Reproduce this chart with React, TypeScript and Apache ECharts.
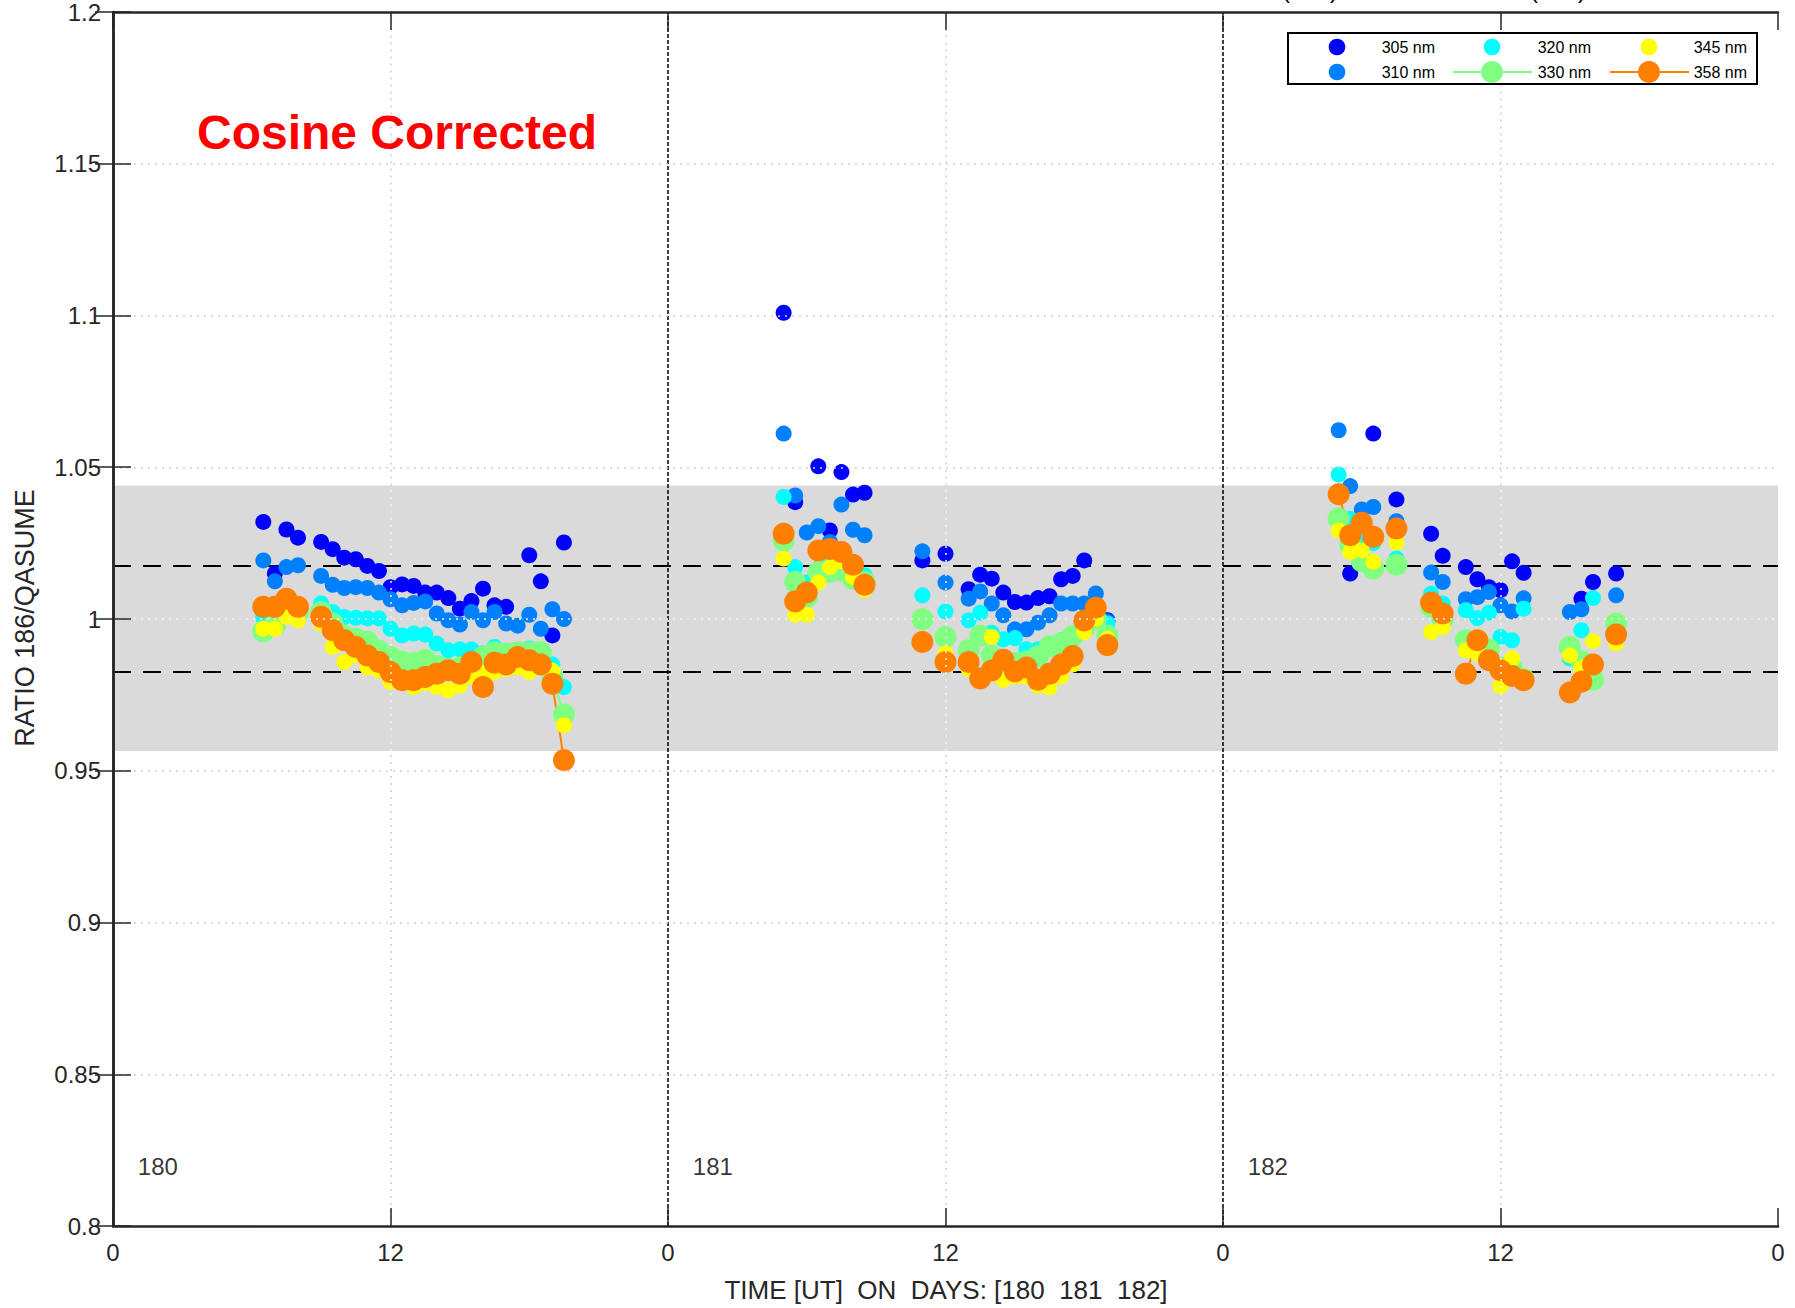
import React, { useEffect, useRef } from "react";
import * as echarts from "echarts";

// ---------- data (hours since day 180, 00 UT) ----------
const SERIES_NAMES = ["305 nm", "310 nm", "320 nm", "330 nm", "345 nm", "358 nm"];
const SERIES_COLORS = ["#0000ff", "#0080ff", "#00ffff", "#80ff80", "#ffff00", "#ff8000"];
const DAYS = ["180", "181", "182"];
const X_TICKS = [0, 12, 24, 36, 48, 60, 72];
const Y_TICKS = [0.8, 0.85, 0.9, 0.95, 1.0, 1.05, 1.1, 1.15, 1.2];
const BAND = [0.9565, 1.044];
const DASHED_LEVELS = [1.0175, 0.9825];

const NM305: [number, number][] = [
  [6.5, 1.032], [7, 1.015], [7.5, 1.0295], [8, 1.0268], [9, 1.0254], [9.5, 1.023], [10, 1.0202], [10.5, 1.0197],
  [11, 1.0175], [11.5, 1.0158], [12, 1.0105], [12.5, 1.0114], [13, 1.0109], [13.5, 1.0087], [14, 1.0087],
  [14.5, 1.0069], [15, 1.0034], [15.5, 1.0059], [16, 1.01], [16.5, 1.0045], [17, 1.004], [18, 1.021],
  [18.5, 1.0124], [19, 0.9946], [19.5, 1.0252],
  [29, 1.1009], [29.5, 1.0385], [30.5, 1.0503], [31, 1.0292], [31.5, 1.0484], [32, 1.041], [32.5, 1.0416],
  [35, 1.0193], [36, 1.0215], [37, 1.0098], [37.5, 1.0146], [38, 1.0133], [38.5, 1.0087], [39, 1.0056],
  [39.5, 1.0054], [40, 1.0069], [40.5, 1.0075], [41, 1.0131], [41.5, 1.0142], [42, 1.0193], [43, 0.9996],
  [53.5, 1.015], [54.5, 1.0611], [55.5, 1.0394], [57, 1.0281], [57.5, 1.0208], [58.5, 1.0171], [59, 1.0131],
  [59.5, 1.0105], [60, 1.0095], [60.5, 1.019], [61, 1.0152], [63.5, 1.0067], [64, 1.0122], [65, 1.015],
];
const NM310: [number, number][] = [
  [6.5, 1.0193], [7, 1.0124], [7.5, 1.0171], [8, 1.0177], [9, 1.0142], [9.5, 1.0113], [10, 1.0102], [10.5, 1.0105],
  [11, 1.0102], [11.5, 1.0087], [12, 1.0065], [12.5, 1.0045], [13, 1.0053], [13.5, 1.0058], [14, 1.0018],
  [14.5, 0.9996], [15, 0.9982], [15.5, 1.0023], [16, 0.9996], [16.5, 1.0023], [17, 0.9985], [17.5, 0.9978],
  [18, 1.0014], [18.5, 0.9968], [19, 1.0032], [19.5, 1.0],
  [29, 1.0611], [29.5, 1.0407], [30, 1.0285], [30.5, 1.0306], [31, 1.0254], [31.5, 1.0377], [32, 1.0294],
  [32.5, 1.0276], [35, 1.0223], [36, 1.012], [37, 1.0067], [37.5, 1.0091], [38, 1.0051], [38.5, 1.0012],
  [39, 0.9966], [39.5, 0.9966], [40, 0.9988], [40.5, 1.0012], [41, 1.0051], [41.5, 1.0051], [42, 1.0051],
  [42.5, 1.0084], [43, 0.9992],
  [53, 1.0622], [53.5, 1.0438], [54, 1.0361], [54.5, 1.0369], [55.5, 1.0322], [57, 1.0153], [57.5, 1.0122],
  [58.5, 1.0065], [59, 1.0072], [59.5, 1.0089], [60, 1.0045], [60.5, 1.0025], [61, 1.0068], [63, 1.0023],
  [63.5, 1.0032], [65, 1.0078],
];
const NM320: [number, number][] = [
  [6.5, 1.0007], [7, 1.0], [7.5, 1.002], [8, 1.0015], [9, 1.0051], [9.5, 1.0023], [10, 1.0007], [10.5, 1.0004],
  [11, 1.0002], [11.5, 1.0002], [12, 0.9968], [12.5, 0.9946], [13, 0.9952], [13.5, 0.9949], [14, 0.9919],
  [14.5, 0.9897], [15, 0.99], [15.5, 0.99], [16, 0.9887], [16.5, 0.9908], [17, 0.9895], [17.5, 0.989],
  [18, 0.9903], [18.5, 0.9895], [19, 0.985], [19.5, 0.9776],
  [29, 1.0402], [29.5, 1.0171], [30, 1.012], [30.5, 1.016], [31, 1.0187], [31.5, 1.018], [32, 1.016],
  [32.5, 1.0144], [35, 1.0078], [36, 1.0025], [37, 0.9996], [37.5, 1.0021], [38, 0.9955], [38.5, 0.9933],
  [39, 0.9937], [39.5, 0.99], [40, 0.99], [40.5, 0.991], [41, 0.993], [41.5, 0.995], [42, 1.0], [42.5, 1.0],
  [43, 0.9985],
  [53, 1.0476], [53.5, 1.033], [54, 1.027], [54.5, 1.025], [55.5, 1.0199], [57, 1.0083], [57.5, 1.0051],
  [58.5, 1.0029], [59, 1.0003], [59.5, 1.0021], [60, 0.9941], [60.5, 0.993], [61, 1.0034], [63, 0.987],
  [63.5, 0.9963], [64, 1.0069], [65, 0.9975],
];
const NM330: [number, number][] = [
  [6.5, 0.9959], [7, 0.998], [7.5, 1.0025], [8, 1.002], [9, 1.0023], [9.5, 0.9985], [10, 0.9945], [10.5, 0.9935],
  [11, 0.9925], [11.5, 0.9895], [12, 0.9875], [12.5, 0.986], [13, 0.9855], [13.5, 0.9865], [14, 0.9845],
  [14.5, 0.9835], [15, 0.984], [15.5, 0.9855], [16, 0.9875], [16.5, 0.989], [17, 0.9885], [17.5, 0.989],
  [18, 0.989], [18.5, 0.9891], [19, 0.981], [19.5, 0.9685],
  [29, 1.0259], [29.5, 1.0122], [30, 1.0073], [30.5, 1.0155], [31, 1.0155], [31.5, 1.016], [32, 1.0133],
  [32.5, 1.0122], [35, 0.9999], [36, 0.9941], [37, 0.9897], [37.5, 0.9945], [38, 0.988], [38.5, 0.986],
  [39, 0.9855], [39.5, 0.986], [40, 0.9877], [40.5, 0.991], [41, 0.992], [41.5, 0.9943], [42, 0.997],
  [42.5, 1.0], [43, 0.9945],
  [53, 1.0331], [53.5, 1.0245], [54, 1.019], [54.5, 1.0166], [55.5, 1.0179], [57, 1.004], [57.5, 1.0],
  [58.5, 0.993], [59, 0.991], [59.5, 0.99], [60, 0.984], [60.5, 0.9835], [61, 0.9803], [63, 0.9908],
  [63.5, 0.986], [64, 0.98], [65, 0.9985],
];
const NM345: [number, number][] = [
  [6.5, 0.9968], [7, 0.9968], [7.5, 1.0007], [8, 0.9996], [9, 0.9985], [9.5, 0.9908], [10, 0.9858], [10.5, 0.988],
  [11, 0.984], [11.5, 0.983], [12, 0.9793], [12.5, 0.9788], [13, 0.9776], [13.5, 0.9788], [14, 0.9776],
  [14.5, 0.9765], [15, 0.9781], [15.5, 0.9811], [16, 0.9822], [16.5, 0.9825], [17, 0.9835], [17.5, 0.984],
  [18, 0.9825], [18.5, 0.984], [19, 0.983], [19.5, 0.965],
  [29, 1.0199], [29.5, 1.0014], [30, 1.0014], [30.5, 1.012], [31, 1.0171], [31.5, 1.019], [32, 1.0138],
  [32.5, 1.0095], [35, 0.9915], [36, 0.9886], [37, 0.9835], [37.5, 0.981], [38, 0.9941], [38.5, 0.98],
  [39, 0.981], [39.5, 0.981], [40, 0.978], [40.5, 0.9774], [41, 0.981], [41.5, 0.985], [42, 0.9957],
  [42.5, 1.0], [43, 0.9935],
  [53, 1.0292], [53.5, 1.0221], [54, 1.0226], [54.5, 1.0188], [55.5, 1.0252], [57, 0.9957], [57.5, 0.9973],
  [58.5, 0.9897], [59, 0.9885], [59.5, 0.986], [60, 0.9779], [60.5, 0.987], [61, 0.9805], [63, 0.988],
  [63.5, 0.984], [64, 0.9927], [65, 0.992],
];
const NM358: [number, number][] = [
  [6.5, 1.004], [7, 1.004], [7.5, 1.0067], [8, 1.004], [9, 1.0007], [9.5, 0.9963], [10, 0.993], [10.5, 0.9908],
  [11, 0.988], [11.5, 0.9858], [12, 0.9825], [12.5, 0.9798], [13, 0.9798], [13.5, 0.9809], [14, 0.982],
  [14.5, 0.9831], [15, 0.982], [15.5, 0.9858], [16, 0.9776], [16.5, 0.9856], [17, 0.985], [17.5, 0.9875],
  [18, 0.9864], [18.5, 0.985], [19, 0.9787], [19.5, 0.9535],
  [29, 1.0281], [29.5, 1.0058], [30, 1.0087], [30.5, 1.0226], [31, 1.0231], [31.5, 1.0221], [32, 1.0179],
  [32.5, 1.0113], [35, 0.9924], [36, 0.9858], [37, 0.9858], [37.5, 0.9804], [38, 0.983], [38.5, 0.9866],
  [39, 0.9827], [39.5, 0.984], [40, 0.98], [40.5, 0.982], [41, 0.985], [41.5, 0.9878], [42, 0.9995],
  [42.5, 1.0037], [43, 0.9914],
  [53, 1.0411], [53.5, 1.0276], [54, 1.0317], [54.5, 1.0271], [55.5, 1.0298], [57, 1.0054], [57.5, 1.0018],
  [58.5, 0.982], [59, 0.993], [59.5, 0.9864], [60, 0.9831], [60.5, 0.9812], [61, 0.9798], [63, 0.9758],
  [63.5, 0.9793], [64, 0.985], [65, 0.9949],
];
const ALL_SERIES = [NM305, NM310, NM320, NM330, NM345, NM358];
const LINE_SERIES = [false, false, false, true, false, true];

// ---------- helpers ----------
const FONT = '"Liberation Sans", Arial, Helvetica, sans-serif';
const STEP = 0.5;

function withGaps(pts: [number, number][]) {
  const out: any[] = [];
  pts.forEach((p, i) => {
    if (i > 0 && p[0] - pts[i - 1][0] > STEP + 0.01) out.push([(p[0] + pts[i - 1][0]) / 2, "-"]);
    out.push(p);
  });
  return out;
}

const GRID = { left: 113, right: 17, top: 10, bottom: 82 };

export default function App() {
  const ref = useRef<HTMLDivElement>(null);

  useEffect(() => {
    if (!ref.current) return;
    const chart = echarts.init(ref.current, undefined, { renderer: "svg" });

    const yMin = Y_TICKS[0];
    const yMax = Y_TICKS[Y_TICKS.length - 1];
    const xMin = X_TICKS[0];
    const xMax = X_TICKS[X_TICKS.length - 1];

    const axisLine = { show: true, lineStyle: { color: "#262626", width: 2.5 } };
    const axisTick = { show: true, inside: true, length: 18, lineStyle: { color: "#262626", width: 1.5 } };

    // grid (drawn on top, like the original)
    const gridDark = "#cfcfcf";
    const gridLight = "#f2f2f2";
    const gridLines: any[] = [];
    Y_TICKS.slice(1, -1).forEach((v) => {
      const inBand = v > BAND[0] && v < BAND[1];
      gridLines.push([
        { coord: [xMin, v], lineStyle: { color: inBand ? gridLight : gridDark } },
        { coord: [xMax, v] },
      ]);
    });
    X_TICKS.filter((t) => t % 24 === 12).forEach((t) => {
      gridLines.push([{ coord: [t, yMin], lineStyle: { color: gridDark } }, { coord: [t, BAND[0]] }]);
      gridLines.push([{ coord: [t, BAND[0]], lineStyle: { color: gridLight } }, { coord: [t, BAND[1]] }]);
      gridLines.push([{ coord: [t, BAND[1]], lineStyle: { color: gridDark } }, { coord: [t, yMax] }]);
    });

    const dataSeries = ALL_SERIES.map((pts, i) => {
      if (LINE_SERIES[i]) {
        return {
          name: SERIES_NAMES[i],
          type: "line",
          data: withGaps(pts),
          connectNulls: false,
          symbol: "circle",
          symbolSize: 22,
          showSymbol: true,
          showAllSymbol: true,
          lineStyle: { color: SERIES_COLORS[i], width: 2 },
          itemStyle: { color: SERIES_COLORS[i], borderWidth: 0 },
          z: 2,
          silent: true,
        };
      }
      return {
        name: SERIES_NAMES[i],
        type: "scatter",
        data: pts,
        symbol: "circle",
        symbolSize: 16,
        itemStyle: { color: SERIES_COLORS[i], opacity: 1 },
        z: 2,
        silent: true,
      };
    });

    const legendX = [1337, 1492, 1649];
    const legendTextX = [1435, 1591, 1747];
    const legendRowY = [47, 72];
    const legendGraphics: any[] = [
      {
        type: "rect",
        shape: { x: 1288, y: 33, width: 469, height: 51 },
        style: { fill: "#ffffff", stroke: "#000000", lineWidth: 2 },
        z: 20,
      },
    ];
    // legend order: column-major (305,310 | 320,330 | 345,358)
    SERIES_NAMES.forEach((name, i) => {
      const col = Math.floor(i / 2);
      const row = i % 2;
      const cx = legendX[col];
      const cy = legendRowY[row];
      if (LINE_SERIES[i]) {
        legendGraphics.push({
          type: "line",
          shape: { x1: cx - 39, y1: cy, x2: cx + 40, y2: cy },
          style: { stroke: SERIES_COLORS[i], lineWidth: 2 },
          z: 21,
        });
      }
      legendGraphics.push({
        type: "circle",
        shape: { cx, cy, r: LINE_SERIES[i] ? 11 : 8.3 },
        style: { fill: SERIES_COLORS[i] },
        z: 22,
      });
      legendGraphics.push({
        type: "text",
        x: legendTextX[col],
        y: cy,
        style: {
          text: name,
          fill: "#000",
          font: `16px ${FONT}`,
          textAlign: "right",
          align: "right",
          textVerticalAlign: "middle",
          verticalAlign: "middle",
        },
        z: 22,
      });
    });

    const option: any = {
      animation: false,
      backgroundColor: "#ffffff",
      grid: GRID,
      xAxis: [
        {
          type: "value",
          min: xMin,
          max: xMax,
          interval: 12,
          position: "bottom",
          z: 10,
          axisLine,
          axisTick,
          splitLine: { show: false },
          axisLabel: {
            margin: 14,
            fontSize: 24,
            fontFamily: FONT,
            color: "#262626",
            formatter: (v: number) => String(v % 24),
          },
        },
        {
          type: "value",
          min: xMin,
          max: xMax,
          interval: 12,
          position: "top",
          z: 10,
          axisLine,
          axisTick,
          splitLine: { show: false },
          axisLabel: { show: false },
        },
      ],
      yAxis: [
        {
          type: "value",
          min: yMin,
          max: yMax,
          interval: 0.05,
          position: "left",
          z: 10,
          axisLine,
          axisTick,
          splitLine: { show: false },
          axisLabel: {
            margin: 12,
            fontSize: 24,
            fontFamily: FONT,
            color: "#262626",
            formatter: (v: number) => String(Math.round(v * 100) / 100),
          },
        },
        {
          type: "value",
          min: yMin,
          max: yMax,
          interval: 0.05,
          position: "right",
          z: 10,
          axisLine,
          axisTick,
          splitLine: { show: false },
          axisLabel: { show: false },
        },
      ],
      series: [
        {
          name: "band",
          type: "line",
          data: [],
          z: 1,
          silent: true,
          markArea: {
            silent: true,
            z: 1,
            precision: 5,
            itemStyle: { color: "#dadada", opacity: 1 },
            data: [[{ yAxis: BAND[0] }, { yAxis: BAND[1] }]],
          },
        },
        {
          name: "levels",
          type: "line",
          data: [],
          z: 1,
          silent: true,
          markLine: {
            silent: true,
            z: 1.5,
            precision: 5,
            symbol: ["none", "none"],
            label: { show: false },
            data: [
              ...DASHED_LEVELS.map((v) => ({ yAxis: v, lineStyle: { color: "#000", width: 2, type: [18, 12] } })),
              ...X_TICKS.filter((t) => t % 24 === 0 && t > xMin && t < xMax).map((t) => ({
                xAxis: t,
                lineStyle: { color: "#000", width: 1.5, type: [4, 2] },
              })),
            ],
          },
        },
        ...dataSeries,
        {
          name: "days",
          type: "scatter",
          data: DAYS.map((_, i) => [24 * i + 1.05, 0.8195]),
          symbol: "circle",
          symbolSize: 1,
          itemStyle: { color: "rgba(0,0,0,0)" },
          z: 3,
          silent: true,
          label: {
            show: true,
            position: "right",
            distance: 0,
            formatter: (p: any) => DAYS[p.dataIndex],
            fontSize: 24,
            fontFamily: FONT,
            color: "#000",
          },
        },
        {
          name: "grid",
          type: "line",
          data: [],
          z: 6,
          silent: true,
          markLine: {
            silent: true,
            z: 6,
            precision: 5,
            symbol: ["none", "none"],
            label: { show: false },
            lineStyle: { width: 1.5, type: [2, 5] },
            data: gridLines,
          },
        },
      ],
      graphic: [
        {
          type: "text",
          x: 197,
          y: 132,
          style: {
            text: "Cosine Corrected",
            fill: "#ff0000",
            font: `bold 48px ${FONT}`,
            textVerticalAlign: "middle",
            verticalAlign: "middle",
          },
          z: 20,
        },
        {
          type: "text",
          x: 946,
          y: 1290,
          style: {
            text: "TIME [UT]  ON  DAYS: [180  181  182]",
            fill: "#262626",
            font: `26px ${FONT}`,
            textAlign: "center",
            align: "center",
            textVerticalAlign: "middle",
            verticalAlign: "middle",
          },
          z: 20,
        },
        {
          type: "text",
          x: 25,
          y: 618,
          rotation: Math.PI / 2,
          style: {
            text: "RATIO 186/QASUME",
            fill: "#262626",
            font: `27px ${FONT}`,
            textAlign: "center",
            align: "center",
            textVerticalAlign: "middle",
            verticalAlign: "middle",
          },
          z: 20,
        },
        {
          type: "text",
          x: 1282,
          y: 1,
          style: {
            text: "(186)",
            fill: "#000",
            font: `24px ${FONT}`,
            textVerticalAlign: "bottom",
            verticalAlign: "bottom",
          },
          z: 20,
        },
        {
          type: "text",
          x: 1530,
          y: 1,
          style: {
            text: "(017)",
            fill: "#000",
            font: `24px ${FONT}`,
            textVerticalAlign: "bottom",
            verticalAlign: "bottom",
          },
          z: 20,
        },
        ...legendGraphics,
      ],
    };

    chart.setOption(option);
    return () => chart.dispose();
  }, []);

  return (
    <div
      ref={ref}
      style={{ position: "fixed", left: 0, top: 0, width: 1795, height: 1308, background: "#fff" }}
    />
  );
}
